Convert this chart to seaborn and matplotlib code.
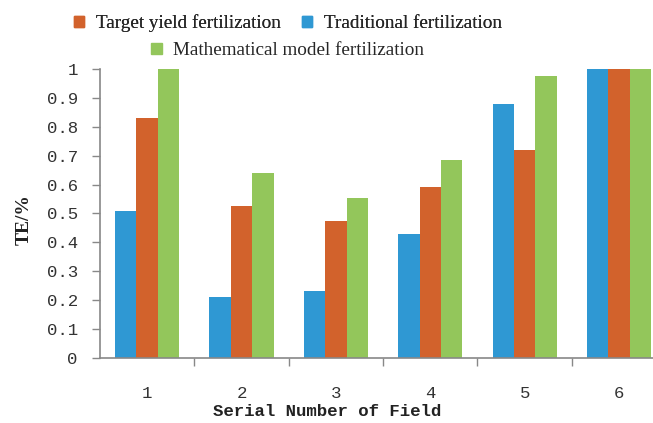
import pandas as pd
import seaborn as sns
import matplotlib.pyplot as plt
from matplotlib.patches import Patch

fields = ['1', '2', '3', '4', '5', '6']
traditional = [0.51, 0.21, 0.23, 0.43, 0.88, 1.0]
target_yield = [0.83, 0.525, 0.475, 0.59, 0.72, 1.0]
math_model = [1.0, 0.64, 0.555, 0.685, 0.975, 1.0]
y_ticks = [0, 0.1, 0.2, 0.3, 0.4, 0.5, 0.6, 0.7, 0.8, 0.9, 1]
y_tick_labels = ['0', '0.1', '0.2', '0.3', '0.4', '0.5', '0.6', '0.7', '0.8', '0.9', '1']

names = ['Traditional fertilization', 'Target yield fertilization',
         'Mathematical model fertilization']
colors = {'Traditional fertilization': '#2f98d3',
          'Target yield fertilization': '#d2622c',
          'Mathematical model fertilization': '#93c65b'}


def main():
    df = pd.DataFrame({'field': fields * 3,
                       'TE': traditional + target_yield + math_model,
                       'method': [n for n in names for _ in fields]})

    sns.set_style('white')
    fig = plt.figure(figsize=(6.53, 4.23), dpi=100)
    ax = fig.add_axes([0.153, 0.154, 0.847, 0.683])
    sns.barplot(data=df, x='field', y='TE', hue='method', hue_order=names,
                palette=colors, width=0.68, gap=0, saturation=1,
                legend=False, ax=ax)
    for p in ax.patches:
        p.set_linewidth(0)

    ax.set_ylim(0, 1)
    ax.set_xlim(-0.5, 5.36)
    ax.set_yticks(y_ticks)
    ax.set_yticklabels(y_tick_labels, family='Liberation Mono', fontsize=12.5)
    ax.set_xticks(range(6))
    ax.set_xticklabels(fields, family='Liberation Mono', fontsize=12.5)
    ax.set_xticks([0.5, 1.5, 2.5, 3.5, 4.5], minor=True)
    ax.tick_params(axis='x', which='major', length=0, pad=20, colors='#333333')
    ax.tick_params(axis='x', which='minor', length=6, width=1, color='#888888',
                   direction='out', bottom=True)
    ax.tick_params(axis='y', length=6, width=1, color='#888888', direction='out',
                   left=True, pad=10, colors='#333333')
    for side in ['top', 'right']:
        ax.spines[side].set_visible(False)
    for side in ['left', 'bottom']:
        ax.spines[side].set_color('#888888')
        ax.spines[side].set_linewidth(1.2)

    ax.set_xlabel('Serial Number of Field', family='Liberation Mono',
                  fontsize=12.5, fontweight='bold', labelpad=2, color='#222222')
    ax.xaxis.set_label_coords(0.41, -0.16)
    ax.set_ylabel('TE/%', family='Liberation Serif', fontsize=14,
                  fontweight='bold', color='#222222')
    ax.yaxis.set_label_coords(-0.122, 0.48)

    font = {'family': 'Liberation Serif', 'size': 13.8}
    h1 = [Patch(color=colors[names[1]]), Patch(color=colors[names[0]])]
    leg1 = fig.legend(h1, [names[1], names[0]], ncol=2, loc='center',
                      bbox_to_anchor=(0.441, 0.945), frameon=False, prop=font,
                      handlelength=0.55, handleheight=0.55, handletextpad=0.6,
                      columnspacing=1.1)
    fig.add_artist(leg1)
    fig.legend([Patch(color=colors[names[2]])], [names[2]], loc='center',
               bbox_to_anchor=(0.441, 0.88), frameon=False, prop=font,
               handlelength=0.55, handleheight=0.55, handletextpad=0.6)

    fig.savefig('out.png', dpi=100)


if __name__ == '__main__':
    main()
